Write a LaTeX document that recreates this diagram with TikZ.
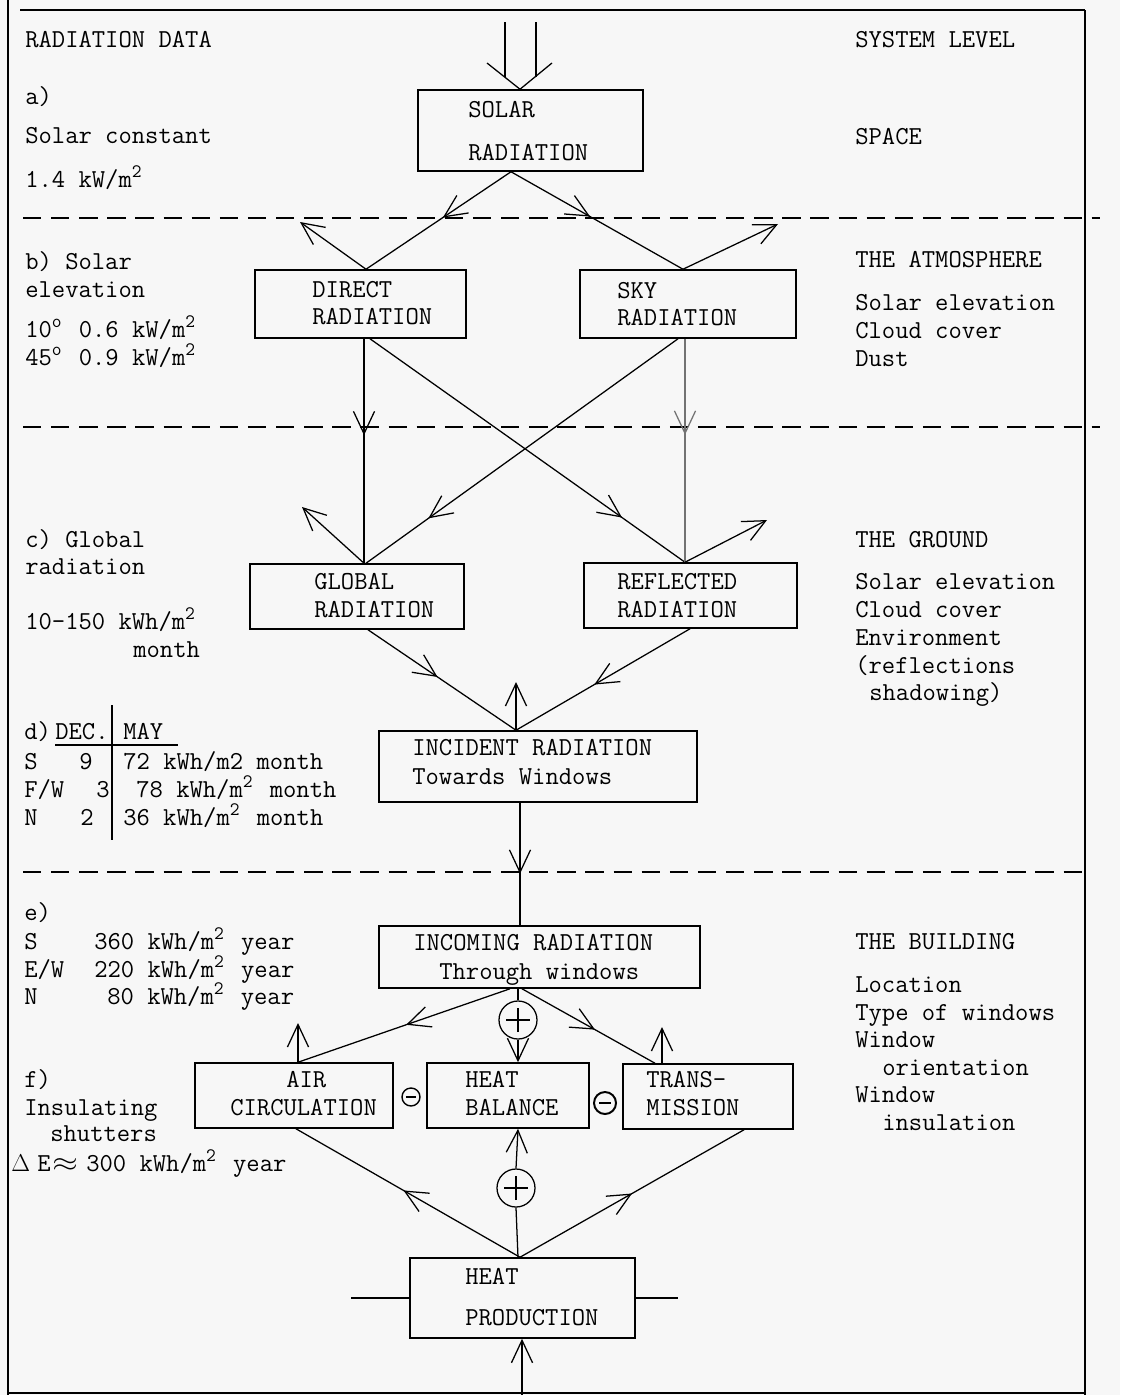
\documentclass[tikz,border=0pt]{standalone}
\usepackage{fontspec}
\usetikzlibrary{arrows.meta,decorations.markings,fit}
\newcommand{\tw}{\fontsize{18.4}{22}\selectfont\ttfamily}
\newcommand{\sq}{\makebox[0.525em][l]{\raisebox{0.36em}{\fontsize{13.5}{14}\selectfont 2}}}
\newcommand{\dg}{\makebox[0.525em][l]{\raisebox{0.36em}{\fontsize{13.5}{14}\selectfont o}}}
\begin{document}
\begin{tikzpicture}[x=0.025cm,y=-0.025cm,
  >={Straight Barb[length=16pt,width=15pt]},
  tx/.style={anchor=base west,inner sep=0pt,font=\tw},
  box/.style={draw,line width=1.1pt,inner sep=0pt,fit={#1}},
  con/.style={line width=0.9pt},
  dl/.style={line width=1.2pt,dash pattern=on 13pt off 7pt},
  frm/.style={line width=0.9pt},
  marr/.style={postaction={decorate},decoration={markings,mark=at position #1 with {\arrow{>}}}},
  pl/.style={circle,draw,line width=0.9pt,minimum size=0.95cm,inner sep=0pt},
  mi/.style={circle,draw,line width=1pt,minimum size=0.45cm,inner sep=0pt}]
\useasboundingbox (0,0) rectangle (1120,1395);
\fill[black!3] (0,0) rectangle (1120,1395);
% frame
\draw[frm] (8,0) -- (8,1395);
\draw[frm] (20,10) -- (1085,10);
\draw[frm] (1085,10) -- (1085,1395);
\draw[frm] (8,1393) -- (1085,1393);
% dashed level lines
\coordinate (d1a) at (23,218); \coordinate (d1b) at (1100,218);
\coordinate (d2a) at (23,427); \coordinate (d2b) at (1100,427);
\coordinate (d3a) at (23,872); \coordinate (d3b) at (1085,872);
\draw[dl] (d1a) -- (d1b);
\draw[dl] (d2a) -- (d2b);
\draw[dl] (d3a) -- (d3b);
% boxes
\node[box={(418,90) (643,171)}] (solar) {};
\node[box={(255,270) (466,338)}] (direct) {};
\node[box={(580,270) (796,338)}] (sky) {};
\node[box={(250,564) (464,629)}] (global) {};
\node[box={(584,563) (797,628)}] (refl) {};
\node[box={(379,731) (697,802)}] (incid) {};
\node[box={(379,926) (700,988)}] (incom) {};
\node[box={(195,1063) (393,1128)}] (air) {};
\node[box={(427,1063) (589,1128)}] (hbal) {};
\node[box={(623,1064) (793,1129)}] (trans) {};
\node[box={(410,1258) (635,1338)}] (hprod) {};
% box texts
\node[tx] (tsol1) at (468,117) {SOLAR};
\node[tx] (tsol2) at (468,160) {RADIATION};
\node[tx] (tdir1) at (312,297) {DIRECT};
\node[tx] (tdir2) at (312,324) {RADIATION};
\node[tx] (tsky1) at (617,298) {SKY};
\node[tx] (tsky2) at (617,325) {RADIATION};
\node[tx] (tglo1) at (314,589) {GLOBAL};
\node[tx] (tglo2) at (314,617) {RADIATION};
\node[tx] (tref1) at (617,589) {REFLECTED};
\node[tx] (tref2) at (617,617) {RADIATION};
\node[tx] (tinc1) at (412,755) {INCIDENT RADIATION};
\node[tx] (tinc2) at (412,784) {Towards Windows};
\node[tx] (tinm1) at (413,950) {INCOMING RADIATION};
\node[tx] (tinm2) at (439,979) {Through windows};
\node[tx] (tair1) at (286,1087) {AIR};
\node[tx] (tair2) at (230,1115) {CIRCULATION};
\node[tx] (thb1) at (465,1087) {HEAT};
\node[tx] (thb2) at (465,1115) {BALANCE};
\node[tx] (ttr1) at (646,1087) {TRANS-};
\node[tx] (ttr2) at (646,1115) {MISSION};
\node[tx] (thp1) at (465,1284) {HEAT};
\node[tx] (thp2) at (465,1325) {PRODUCTION};
% left column
\node[tx] (l1) at (25,47) {RADIATION DATA};
\node[tx] (l2) at (25,104) {a)};
\node[tx] (l3) at (25,143) {Solar constant};
\node[tx] (l4) at (25,187) {1.4 kW/m\sq};
\node[tx] (l5) at (25,269) {b) Solar};
\node[tx] (l6) at (25,297) {elevation};
\node[tx] (l7) at (25,337) {10\dg{} 0.6 kW/m\sq};
\node[tx] (l8) at (25,365) {45\dg{} 0.9 kW/m\sq};
\node[tx] (l9) at (25,547) {c) Global};
\node[tx] (l10) at (25,574) {radiation};
\node[tx] (l11) at (25,629) {10-150 kWh/m\sq};
\node[tx] (l12) at (133,657) {month};
\node[tx] (ld0) at (24,739) {d)};
\node[tx] (ld1) at (55,739) {DEC.};
\node[tx] (ld2) at (123,739) {MAY};
\draw[con] (112,705) -- (112,840);
\draw[con] (55,745) -- (178,745);
\node[tx] (ls1) at (24,769) {S};
\node[tx] (ls2) at (79,769) {9};
\node[tx] (ls3) at (123,769) {72 kWh/m2 month};
\node[tx] (lf1) at (24,797) {F/W};
\node[tx] (lf2) at (96,797) {3};
\node[tx] (lf3) at (136,797) {78 kWh/m\sq{} month};
\node[tx] (ln1) at (24,825) {N};
\node[tx] (ln2) at (80,825) {2};
\node[tx] (ln3) at (123,825) {36 kWh/m\sq{} month};
\node[tx] (le0) at (24,920) {e)};
\node[tx] (le1) at (24,949) {S};
\node[tx] (le2) at (94,949) {360 kWh/m\sq{} year};
\node[tx] (le3) at (24,977) {E/W};
\node[tx] (le4) at (94,977) {220 kWh/m\sq{} year};
\node[tx] (le5) at (24,1004) {N};
\node[tx] (le6) at (107,1004) {80 kWh/m\sq{} year};
\node[tx] (lf0) at (24,1087) {f)};
\node[tx] (lf4) at (24,1115) {Insulating};
\node[tx] (lf5) at (50,1141) {shutters};
\node[tx] (lde) at (11,1171) {$\Delta$};
\node[tx] (lde2) at (37,1171) {E};
\node[tx] (lde3) at (52,1171) {\scalebox{1.35}[1.1]{$\approx$}};
\node[tx] (lde4) at (86,1171) {300 kWh/m\sq{} year};
% right column
\node[tx] (r1) at (855,47) {SYSTEM LEVEL};
\node[tx] (r2) at (855,144) {SPACE};
\node[tx] (r3) at (855,267) {THE ATMOSPHERE};
\node[tx] (r4) at (855,310) {Solar elevation};
\node[tx] (r5) at (855,338) {Cloud cover};
\node[tx] (r6) at (855,366) {Dust};
\node[tx] (r7) at (855,547) {THE GROUND};
\node[tx] (r8) at (855,589) {Solar elevation};
\node[tx] (r9) at (855,617) {Cloud cover};
\node[tx] (r10) at (855,645) {Environment};
\node[tx] (r11) at (855,673) {(reflections};
\node[tx] (r12) at (869,700) {shadowing)};
\node[tx] (r13) at (855,949) {THE BUILDING};
\node[tx] (r14) at (855,992) {Location};
\node[tx] (r15) at (855,1020) {Type of windows};
\node[tx] (r16) at (855,1047) {Window};
\node[tx] (r17) at (882,1075) {orientation};
\node[tx] (r18) at (855,1102) {Window};
\node[tx] (r19) at (882,1130) {insulation};
% signs
\node[pl] (p1) at (518,1020) {};
\node[pl] (p2) at (516,1188) {};
\draw[line width=1.2pt] ([xshift=-0.3cm]p1.center) -- ([xshift=0.3cm]p1.center)
  ([yshift=-0.3cm]p1.center) -- ([yshift=0.3cm]p1.center);
\draw[line width=1.2pt] ([xshift=-0.3cm]p2.center) -- ([xshift=0.3cm]p2.center)
  ([yshift=-0.3cm]p2.center) -- ([yshift=0.3cm]p2.center);
\node[mi] (m1) at (411,1097) {};
\node[mi,minimum size=0.55cm,line width=1.4pt] (m2) at (605,1103) {};
\draw[line width=1.2pt] ([xshift=-0.13cm]m1.center) -- ([xshift=0.13cm]m1.center);
\draw[line width=1.4pt] ([xshift=-0.15cm]m2.center) -- ([xshift=0.15cm]m2.center);
% top input
\coordinate (i1) at (505,22); \coordinate (i1b) at (505,77);
\coordinate (i2) at (536,22); \coordinate (i2b) at (536,77);
\coordinate (vL) at (487,63); \coordinate (vR) at (552,63);
\draw[con] (i1) -- (i1b);
\draw[con] (i2) -- (i2b);
\draw[con] (vL) -- (solar.north -| 520,0) -- (vR);
% connectors
\draw[con,marr=0.47] (solar.south -| 511,0) -- (direct.north -| 366,0);
\draw[con,marr=0.46] (solar.south -| 511,0) -- (sky.north -| 683,0);
\coordinate (rf1) at (300,222);
\coordinate (rf2) at (778,224);
\draw[con,->] (direct.north -| 366,0) -- (rf1);
\draw[con,->] (sky.north -| 683,0) -- (rf2);
\draw[con,marr=0.43] (direct.south -| 364,0) -- (global.north -| 364,0);
\draw[con,marr=0.8] (direct.south -| 370,0) -- (refl.north -| 685,0);
\draw[con,marr=0.8] (sky.south -| 678,0) -- (global.north -| 366,0);
\draw[con,black!55,marr=0.43] (sky.south -| 685,0) -- (refl.north -| 685,0);
\coordinate (rf3) at (302,507);
\coordinate (rf4) at (767,520);
\draw[con,->] (global.north -| 364,0) -- (rf3);
\draw[con,->] (refl.north -| 685,0) -- (rf4);
\draw[con,marr=0.47] (global.south -| 368,0) -- (incid.north -| 516,0);
\draw[con,marr=0.55] (refl.south -| 690,0) -- (incid.north -| 516,0);
\coordinate (up1) at (516,682);
\draw[con,->] (incid.north -| 516,0) -- (up1);
\draw[con,marr=0.58] (incid.south -| 520,0) -- (incom.north -| 520,0);
\draw[con,marr=0.49] (incom.south -| 510,0) -- (air.north -| 298,0);
\draw[con] (incom.south -| 518,0) -- (p1.north);
\draw[con,->] (p1.south) -- (hbal.north -| 518,0);
\draw[con,marr=0.55] (incom.south -| 522,0) -- (trans.north -| 655,0);
\coordinate (up2) at (298,1023);
\coordinate (up3) at (662,1027);
\draw[con,->] (air.north -| 298,0) -- (up2);
\draw[con,->] (trans.north -| 662,0) -- (up3);
\draw[con,marr=0.52] (hprod.north -| 520,0) -- (air.south -| 296,0);
\draw[con,marr=0.5] (hprod.north -| 520,0) -- (trans.south -| 744,0);
\draw[con] (hprod.north -| 518,0) -- (p2.south);
\draw[con,->] (p2.north) -- (hbal.south -| 518,0);
\coordinate (bin) at (522,1395);
\draw[con,->] (bin) -- (hprod.south -| 522,0);
\coordinate (stL) at (351,1298); \coordinate (stR) at (678,1298);
\draw[line width=1.2pt] (hprod.west) -- (stL);
\draw[line width=1.2pt] (hprod.east) -- (stR);
\end{tikzpicture}
\end{document}
